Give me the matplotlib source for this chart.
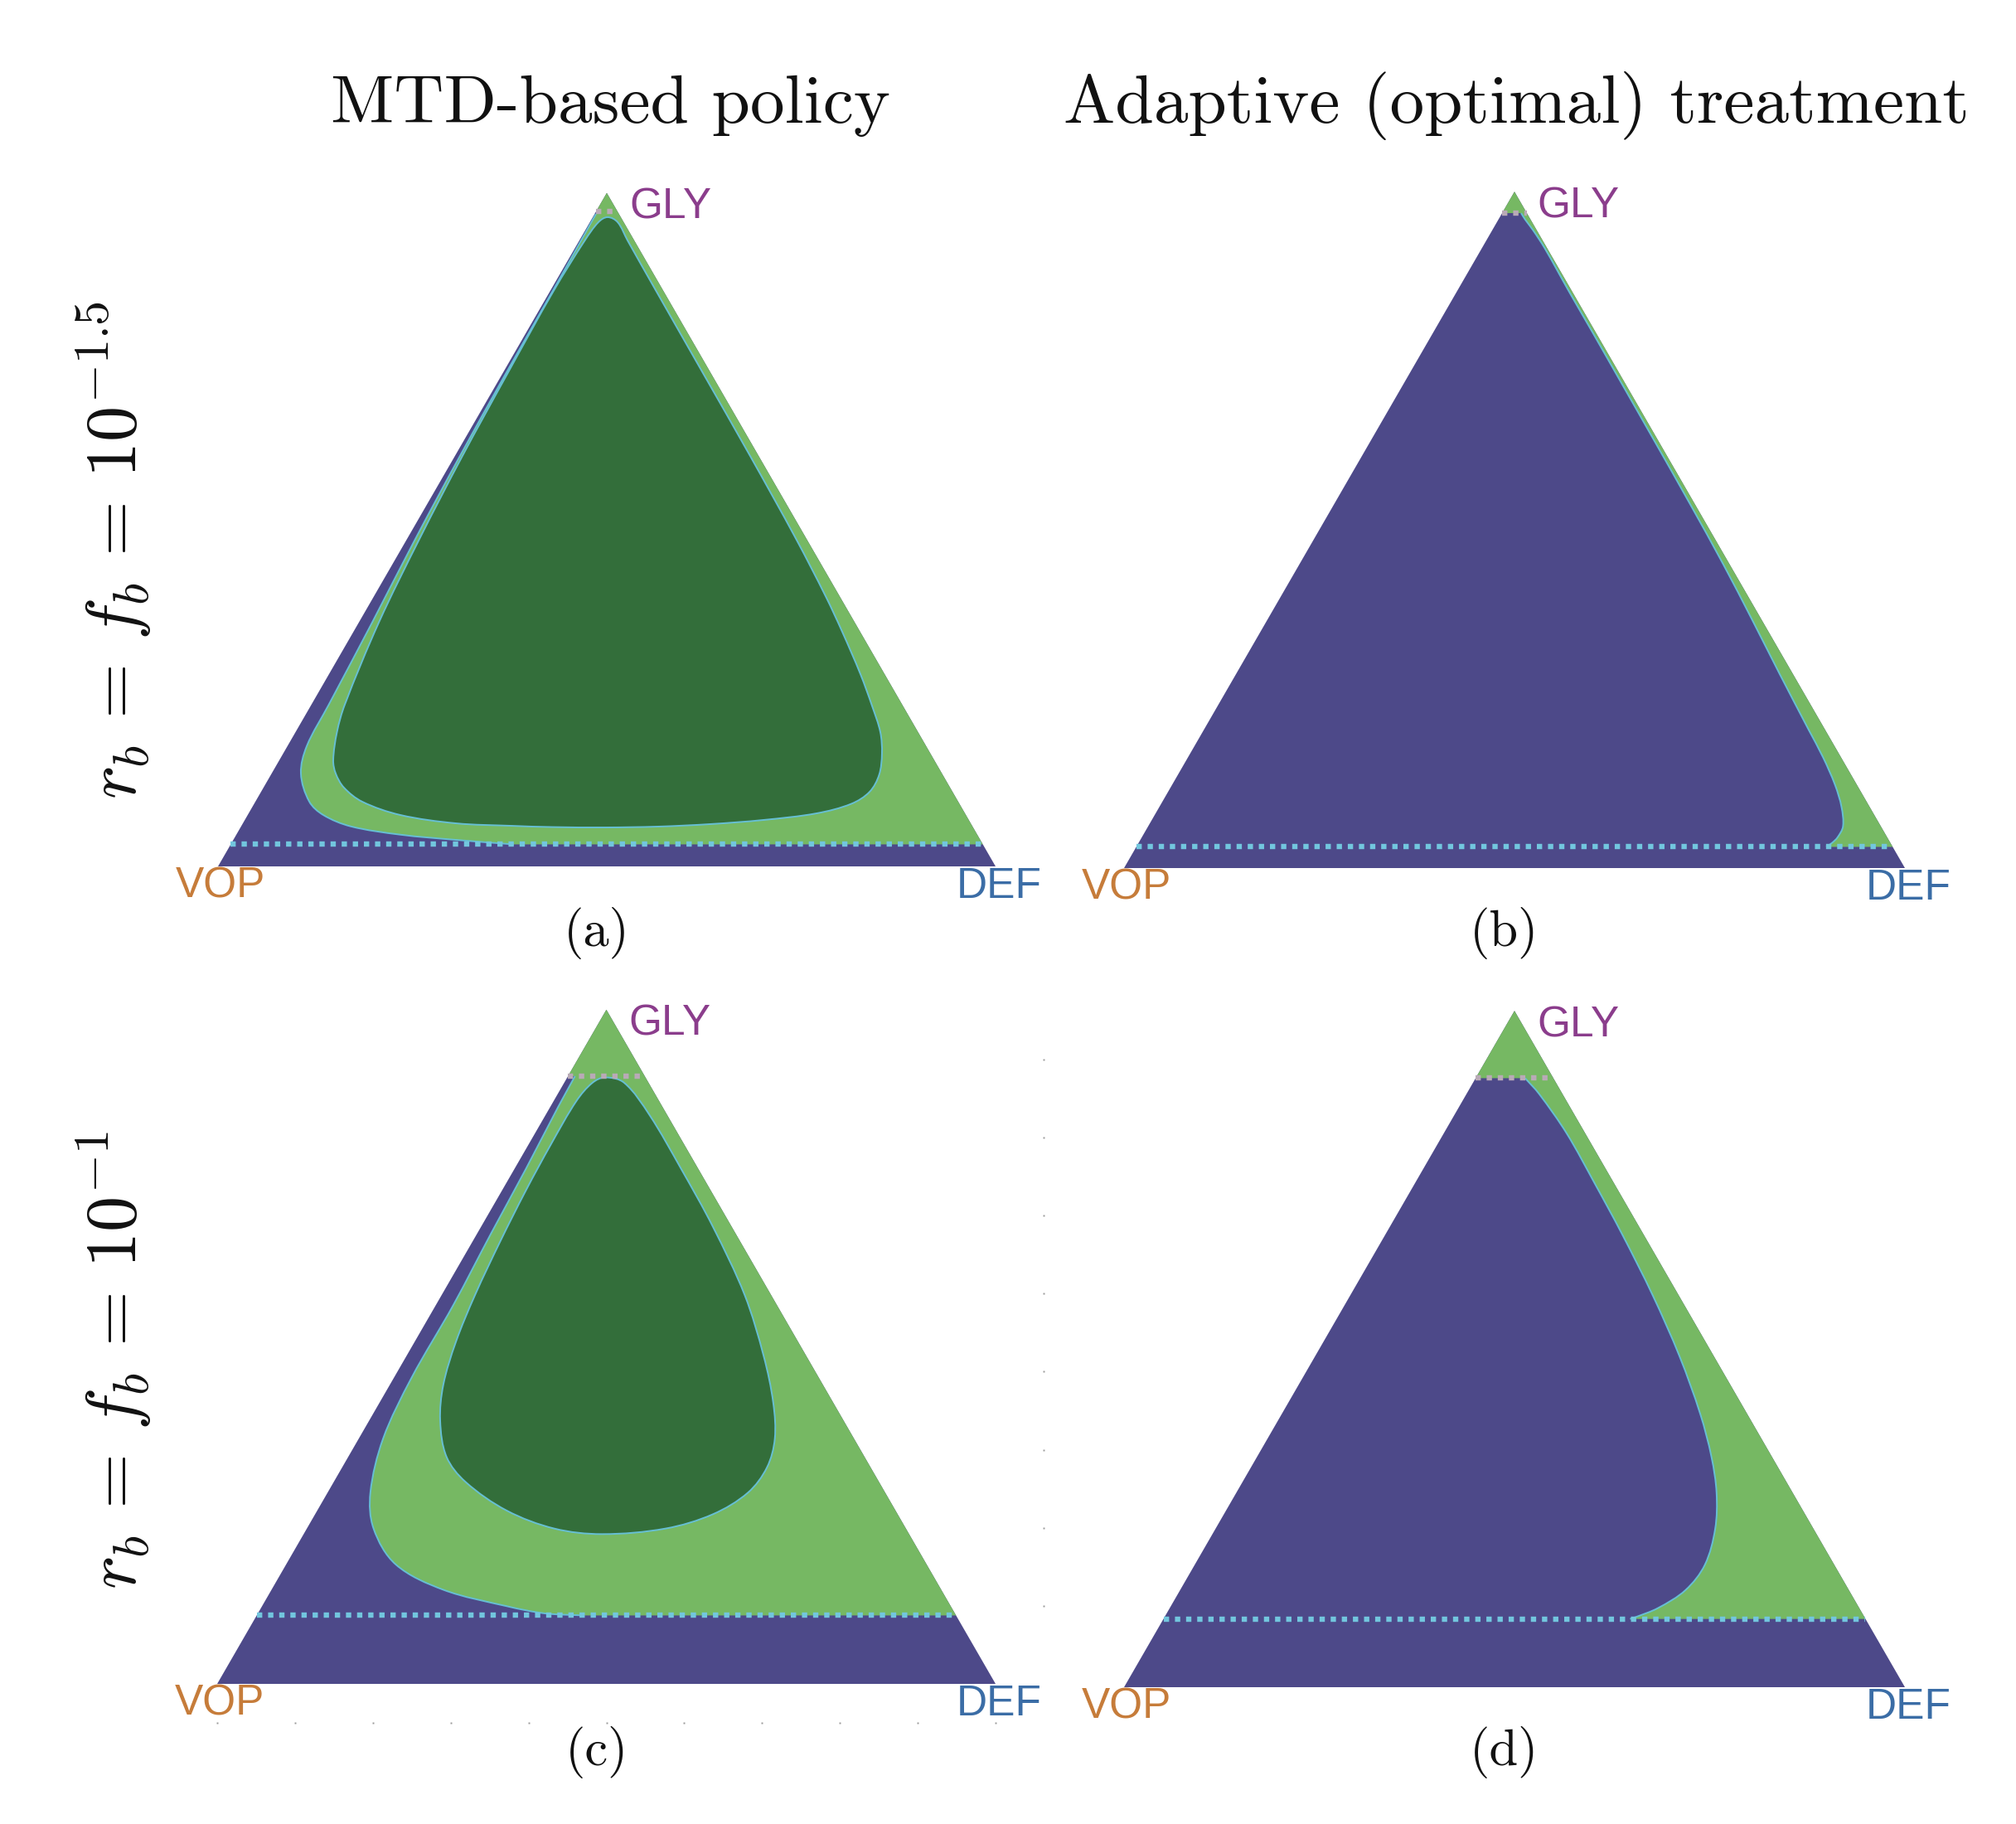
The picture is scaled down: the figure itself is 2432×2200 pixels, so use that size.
import numpy as np
import matplotlib
matplotlib.use("Agg")
import matplotlib.pyplot as plt
from matplotlib.patches import PathPatch
from matplotlib.path import Path

# ---------------- text content ----------------
column_titles = ["MTD-based policy", "Adaptive (optimal) treatment"]
row_labels = [r"$r_b\,=\,f_b\,=\,10^{-1.5}$", r"$r_b\,=\,f_b\,=\,10^{-1}$"]
panel_tags = ["(a)", "(b)", "(c)", "(d)"]
vertex_names = ["VOP", "DEF", "GLY"]
vertex_colors = ["#C67C3A", "#3B6DA6", "#8B3D8C"]

# ---------------- data (triangle units: side = 1) ----------------
H = np.sqrt(3) / 2

# panel (a): MTD, r_b = f_b = 10^-1.5
a_low, a_high = 0.0283, 0.8422
a_light_x = [0.3806, 0.3060, 0.2345, 0.1706, 0.1354, 0.1173, 0.1066, 0.1141, 0.1424,
             0.1987, 0.2538, 0.3111, 0.3705, 0.4310, 0.4670, 0.4861]
a_light_y = [0.0283, 0.0341, 0.0408, 0.0515, 0.0661, 0.0835, 0.1194, 0.1546, 0.2079,
             0.3145, 0.4211, 0.5277, 0.6343, 0.7409, 0.8049, 0.8390]
a_dark_x = [0.5011, 0.5139, 0.5267, 0.5629, 0.6237, 0.6844, 0.7434, 0.7819, 0.8028, 0.8262,
            0.8412, 0.8518, 0.8539, 0.8503, 0.8380, 0.8145, 0.7697, 0.7015, 0.6333, 0.5661,
            0.4979, 0.4296, 0.3774, 0.3060, 0.2345, 0.1855, 0.1620, 0.1514, 0.1482, 0.1530,
            0.1630, 0.2072, 0.2591, 0.3143, 0.3726, 0.4321, 0.4718, 0.4893]
a_dark_y = [0.8348, 0.8284, 0.8049, 0.7409, 0.6343, 0.5277, 0.4211, 0.3465, 0.3017, 0.2473,
            0.2063, 0.1727, 0.1450, 0.1179, 0.0959, 0.0805, 0.0682, 0.0597, 0.0544, 0.0512,
            0.0501, 0.0506, 0.0522, 0.0554, 0.0661, 0.0832, 0.1013, 0.1194, 0.1365, 0.1727,
            0.2079, 0.3145, 0.4211, 0.5277, 0.6343, 0.7409, 0.8049, 0.8284]

# panel (b): adaptive, r_b = f_b = 10^-1.5
b_low, b_high = 0.0271, 0.8386
b_edge_x = [0.5085, 0.5136, 0.5237, 0.5391, 0.5705, 0.5999, 0.6398, 0.6797, 0.7249, 0.7670,
            0.8039, 0.8398, 0.8766, 0.8951, 0.9105, 0.9188, 0.9207, 0.9137, 0.9066, 0.8992]
b_edge_y = [0.8386, 0.8304, 0.8168, 0.7930, 0.7370, 0.6860, 0.6160, 0.5460, 0.4660, 0.3896,
            0.3188, 0.2481, 0.1773, 0.1419, 0.1065, 0.0782, 0.0534, 0.0393, 0.0322, 0.0271]

# panel (c): MTD, r_b = f_b = 10^-1
c_low, c_high = 0.0879, 0.7806
c_light_x = [0.4700, 0.4206, 0.3720, 0.2905, 0.2294, 0.2009, 0.1968, 0.2131, 0.2498, 0.3028,
             0.3517, 0.3965, 0.4373, 0.4597]
c_light_y = [0.0879, 0.0906, 0.0998, 0.1209, 0.1534, 0.1995, 0.2456, 0.3149, 0.3934, 0.4856,
             0.5783, 0.6613, 0.7397, 0.7806]
c_dark_x = [0.4984, 0.5229, 0.5555, 0.5962, 0.6368, 0.6777, 0.7021, 0.7144, 0.7164, 0.7063,
            0.6818, 0.6368, 0.5758, 0.4944, 0.4332, 0.3720, 0.3191, 0.2946, 0.2865, 0.2905,
            0.3068, 0.3313, 0.3639, 0.3965, 0.4291, 0.4617, 0.4821]
c_dark_y = [0.7790, 0.7721, 0.7306, 0.6613, 0.5873, 0.4995, 0.4211, 0.3610, 0.3149, 0.2780,
            0.2456, 0.2179, 0.1995, 0.1924, 0.1995, 0.2226, 0.2594, 0.2918, 0.3379, 0.3841,
            0.4396, 0.4996, 0.5689, 0.6336, 0.6936, 0.7490, 0.7721]

# panel (d): adaptive, r_b = f_b = 10^-1
d_low, d_high = 0.0874, 0.7798
d_edge_x = [0.5136, 0.5315, 0.5669, 0.6030, 0.6377, 0.6770, 0.7114, 0.7379, 0.7523, 0.7588,
            0.7570, 0.7438, 0.7190, 0.6837, 0.6553, 0.6480]
d_edge_y = [0.7798, 0.7597, 0.7090, 0.6446, 0.5803, 0.5018, 0.4236, 0.3499, 0.2947, 0.2486,
            0.2027, 0.1567, 0.1243, 0.1013, 0.0898, 0.0874]

tick_values = [0.0, 0.1, 0.2, 0.3, 0.4, 0.5, 0.6, 0.7, 0.8, 0.9, 1.0]

# ---------------- style ----------------
COL_PURPLE = "#4D4989"
COL_LIGHT = "#76B863"
COL_DARK = "#336E3A"
COL_CYAN = "#72C6DE"
COL_GREY = "#B9AAB7"
COL_EDGE = "#66BFD4"

FIG_W, FIG_H, DPI = 2432, 2200, 200
plt.rcParams["mathtext.fontset"] = "cm"

fig = plt.figure(figsize=(FIG_W / DPI, FIG_H / DPI), dpi=DPI)
fig.patch.set_facecolor("white")

# triangle placement in pixels: (left vertex x, base y from top, side length)
placements = {"a": (263, 1045, 938), "b": (1356, 1047, 942),
              "c": (262, 2031, 939), "d": (1356, 2035, 942)}


def make_ax(key):
    x0, yb, w = placements[key]
    ax = fig.add_axes([x0 / FIG_W, (FIG_H - yb) / FIG_H, w / FIG_W, w * H / FIG_H])
    ax.set_xlim(0, 1)
    ax.set_ylim(0, H)
    ax.axis("off")
    return ax


def xl(y):
    return y / np.sqrt(3)


def xr(y):
    return 1 - y / np.sqrt(3)


def _unit(v):
    n = np.hypot(v[0], v[1])
    return v / n if n > 0 else v


def smooth_segments(xs, ys, closed):
    """Bezier control points so the path runs smoothly through the given points."""
    P = np.column_stack([xs, ys]).astype(float)
    n = len(P)
    verts, codes = [], []
    nseg = n if closed else n - 1
    for i in range(nseg):
        p1 = P[i]
        p2 = P[(i + 1) % n]
        if closed:
            p0 = P[(i - 1) % n]
            p3 = P[(i + 2) % n]
        else:
            p0 = P[i - 1] if i > 0 else p1
            p3 = P[i + 2] if i + 2 < n else p2
        d = np.hypot(*(p2 - p1))
        t1 = _unit(p2 - p0)
        t2 = _unit(p3 - p1)
        verts += [p1 + t1 * d / 3, p2 - t2 * d / 3, p2]
        codes += [Path.CURVE4] * 3
    return verts, codes


def curve_path(xs, ys, closed):
    v, c = smooth_segments(xs, ys, closed)
    verts = [(xs[0], ys[0])] + v
    codes = [Path.MOVETO] + c
    if closed:
        verts.append((xs[0], ys[0]))
        codes.append(Path.CLOSEPOLY)
    return Path(verts, codes)


def region_path(xs, ys, low, high):
    # apex -> right edge at the low line -> boundary curve -> left edge at high line
    v, c = smooth_segments(xs, ys, False)
    verts = [(0.5, H), (xr(low), low), (xs[0], ys[0])] + v + [(xl(high), high), (0.5, H)]
    codes = [Path.MOVETO, Path.LINETO, Path.LINETO] + c + [Path.LINETO, Path.CLOSEPOLY]
    return Path(verts, codes)


def base(ax):
    tri = Path([(0, 0), (1, 0), (0.5, H), (0, 0)],
               [Path.MOVETO, Path.LINETO, Path.LINETO, Path.CLOSEPOLY])
    ax.add_patch(PathPatch(tri, facecolor=COL_PURPLE, edgecolor="none", zorder=1))


def dotted(ax, y, color):
    ax.plot([xl(y), xr(y)], [y, y], color=color, lw=2.3, ls=(0, (1, 1.1)),
            dash_capstyle="butt", zorder=6, clip_on=False)


def vertex_labels(ax):
    kw = dict(fontsize=18.5, family="Liberation Sans", va="baseline", clip_on=False)
    ax.text(0.003, -0.040, vertex_names[0], color=vertex_colors[0], ha="center", **kw)
    ax.text(1.004, -0.040, vertex_names[1], color=vertex_colors[1], ha="center", **kw)
    ax.text(0.529, 0.833, vertex_names[2], color=vertex_colors[2], ha="left", **kw)


def mtd_panel(ax, low, high, lx, ly, dx, dy):
    base(ax)
    ax.add_patch(PathPatch(region_path(lx, ly, low, high), facecolor=COL_LIGHT,
                           edgecolor="none", zorder=2))
    ax.add_patch(PathPatch(curve_path(lx, ly, False), facecolor="none",
                           edgecolor=COL_EDGE, lw=0.7, zorder=3))
    ax.add_patch(PathPatch(curve_path(dx, dy, True), facecolor=COL_DARK,
                           edgecolor=COL_EDGE, lw=0.7, zorder=4))
    dotted(ax, low, COL_CYAN)
    dotted(ax, high, COL_GREY)
    vertex_labels(ax)


def opt_panel(ax, low, high, ex, ey):
    base(ax)
    rx, ry = ex[::-1], ey[::-1]
    ax.add_patch(PathPatch(region_path(rx, ry, low, high), facecolor=COL_LIGHT,
                           edgecolor="none", zorder=2))
    ax.add_patch(PathPatch(curve_path(rx, ry, False), facecolor="none",
                           edgecolor=COL_EDGE, lw=0.7, zorder=3))
    dotted(ax, low, COL_CYAN)
    dotted(ax, high, COL_GREY)
    vertex_labels(ax)


ax_a = make_ax("a")
mtd_panel(ax_a, a_low, a_high, a_light_x, a_light_y, a_dark_x, a_dark_y)
ax_b = make_ax("b")
opt_panel(ax_b, b_low, b_high, b_edge_x, b_edge_y)
ax_c = make_ax("c")
mtd_panel(ax_c, c_low, c_high, c_light_x, c_light_y, c_dark_x, c_dark_y)
ax_d = make_ax("d")
opt_panel(ax_d, d_low, d_high, d_edge_x, d_edge_y)

# faint tick dots (artifacts in the original)
ax_c.plot(tick_values, [-0.050] * len(tick_values), ls="none", marker="s", ms=0.7,
          mew=0, color="#999999", clip_on=False)
ax_d.plot([-0.103] * 8, [v + 0.004 for v in tick_values[1:9]], ls="none", marker="s",
          ms=0.7, mew=0, color="#999999", clip_on=False)


# ---------------- figure texts ----------------
def fx(px):
    return px / FIG_W


def fy(py):
    return 1 - py / FIG_H


for cx, title in zip([736, 1829], column_titles):
    fig.text(fx(cx), fy(148), title, family="cmr10", fontsize=30,
             ha="center", va="baseline", color="#111111")

for cy, lab in zip([663, 1641], row_labels):
    fig.text(fx(137), fy(cy), lab, fontsize=31, rotation=90,
             ha="center", va="center", color="#111111")

tag_pos = [(720, 1141), (1815, 1141), (720, 2129), (1815, 2129)]
for (tx, ty), tag in zip(tag_pos, panel_tags):
    fig.text(fx(tx), fy(ty), tag, family="cmr10", fontsize=22.5,
             ha="center", va="baseline", color="#111111")

fig.savefig("out.png", dpi=DPI, facecolor="white")
